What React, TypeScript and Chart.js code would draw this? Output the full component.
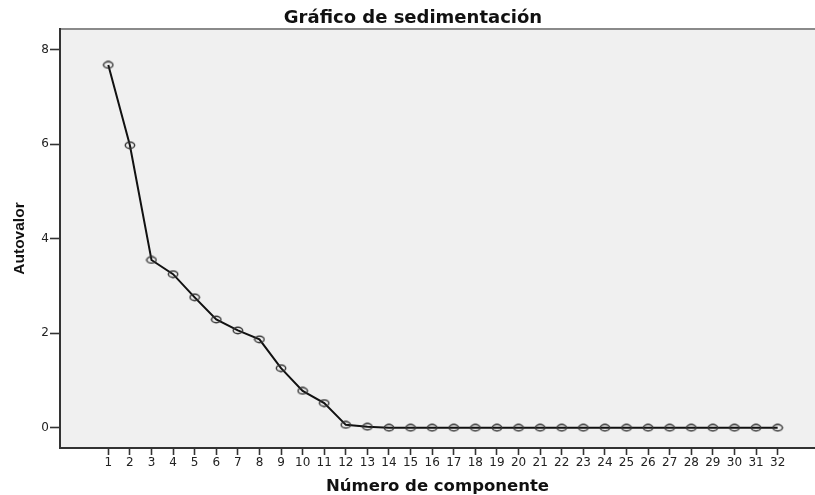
import React, { useEffect, useRef } from "react";
import { Chart, registerables } from "chart.js";

Chart.register(...registerables);

const chartTitle = "Gráfico de sedimentación";
const xAxisTitle = "Número de componente";
const yAxisTitle = "Autovalor";

const components = [
  1, 2, 3, 4, 5, 6, 7, 8, 9, 10, 11, 12, 13, 14, 15, 16,
  17, 18, 19, 20, 21, 22, 23, 24, 25, 26, 27, 28, 29, 30, 31, 32,
];
const eigenvalues = [
  7.68, 5.98, 3.55, 3.25, 2.76, 2.29, 2.06, 1.87, 1.26, 0.78, 0.52, 0.06, 0.02, 0.0, 0.0, 0.0,
  0.0, 0.0, 0.0, 0.0, 0.0, 0.0, 0.0, 0.0, 0.0, 0.0, 0.0, 0.0, 0.0, 0.0, 0.0, 0.0,
];
const yTicks = [0, 2, 4, 6, 8];

function makeMarker(): HTMLCanvasElement {
  const c = document.createElement("canvas");
  c.width = 12;
  c.height = 9;
  const ctx = c.getContext("2d")!;
  ctx.strokeStyle = "#333333";
  ctx.lineWidth = 1.4;
  ctx.beginPath();
  ctx.ellipse(6, 4.5, 4.7, 3.2, 0, 0, Math.PI * 2);
  ctx.stroke();
  return c;
}

const framePlugin = {
  id: "frame",
  beforeDraw(chart: any) {
    const { ctx, chartArea } = chart;
    ctx.save();
    ctx.fillStyle = "#ffffff";
    ctx.fillRect(0, 0, chart.width, chart.height);
    ctx.fillStyle = "#f0f0f0";
    ctx.fillRect(chartArea.left, chartArea.top, chartArea.right - chartArea.left, chartArea.bottom - chartArea.top);
    ctx.strokeStyle = "#8a8a8a";
    ctx.lineWidth = 2;
    ctx.beginPath();
    ctx.moveTo(chartArea.left, chartArea.top);
    ctx.lineTo(chartArea.right, chartArea.top);
    ctx.stroke();
    ctx.restore();
  },
  afterDraw(chart: any) {
    const { ctx } = chart;
    ctx.save();
    ctx.fillStyle = "#111111";
    ctx.font = "bold 18px 'DejaVu Sans'";
    ctx.textAlign = "center";
    ctx.textBaseline = "alphabetic";
    ctx.fillText(chartTitle, 413, 23);
    ctx.restore();
  },
};

export default function App() {
  const ref = useRef<HTMLCanvasElement | null>(null);

  useEffect(() => {
    if (!ref.current) return;
    const marker = makeMarker();
    const chart = new Chart(ref.current, {
      type: "line",
      data: {
        datasets: [
          {
            data: components.map((c, i) => ({ x: c, y: eigenvalues[i] })),
            borderColor: "#111111",
            borderWidth: 2,
            pointStyle: marker as any,
            pointRadius: 4,
            pointHoverRadius: 4,
            fill: false,
            tension: 0,
          },
        ],
      },
      plugins: [framePlugin],
      options: {
        animation: false,
        responsive: false,
        events: [],
        layout: { autoPadding: false, padding: { top: 29, left: 0, right: 0, bottom: 0 } },
        plugins: {
          legend: { display: false },
          title: { display: false },
          tooltip: { enabled: false },
        },
        scales: {
          x: {
            type: "linear",
            min: -1.237,
            max: 33.73,
            afterBuildTicks: (scale: any) => {
              scale.ticks = components.map((v) => ({ value: v }));
            },
            afterFit: (scale: any) => {
              scale.height = 47;
              scale.paddingLeft = 0;
              scale.paddingRight = 0;
            },
            ticks: {
              callback: (v: any) => String(v),
              autoSkip: false,
              maxRotation: 0,
              padding: 1,
              color: "#222222",
              font: { family: "'DejaVu Sans'", size: 12 },
            },
            grid: {
              drawOnChartArea: false,
              drawTicks: true,
              tickLength: 7,
              tickWidth: 1.6,
              tickColor: "#333333",
            },
            border: { display: true, color: "#333333", width: 2 },
            title: {
              display: true,
              text: xAxisTitle,
              color: "#111111",
              font: { family: "'DejaVu Sans'", size: 16.5, weight: "bold", lineHeight: 1 },
              padding: { top: 0, bottom: 0 },
            },
          },
          y: {
            type: "linear",
            min: -0.43,
            max: 8.44,
            afterBuildTicks: (scale: any) => {
              scale.ticks = yTicks.map((v) => ({ value: v }));
            },
            afterFit: (scale: any) => {
              scale.width = 60;
            },
            ticks: {
              callback: (v: any) => String(v),
              padding: 1,
              color: "#222222",
              font: { family: "'DejaVu Sans'", size: 12 },
            },
            grid: {
              drawOnChartArea: false,
              drawTicks: true,
              tickLength: 10,
              tickWidth: 1.6,
              tickColor: "#333333",
            },
            border: { display: true, color: "#333333", width: 2 },
            title: {
              display: true,
              text: yAxisTitle,
              color: "#111111",
              font: { family: "'Liberation Sans'", size: 15.5, weight: "bold", lineHeight: 1.2 },
              padding: { top: 10, bottom: 0 },
            },
          },
        },
      },
    });
    return () => chart.destroy();
  }, []);

  return (
    <div style={{ position: "fixed", left: 0, top: 0, width: 815, height: 495 }}>
      <canvas ref={ref} width={815} height={495} style={{ width: 815, height: 495, display: "block" }} />
    </div>
  );
}
